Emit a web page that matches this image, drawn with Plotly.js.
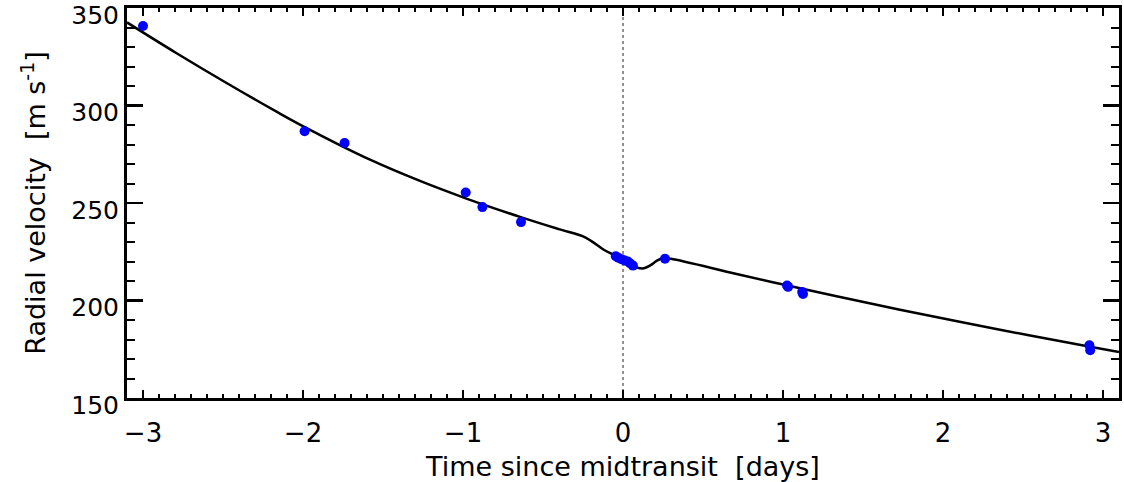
<!DOCTYPE html>
<html>
<head>
<meta charset="utf-8">
<script src="https://cdn.plot.ly/plotly-3.0.1.min.js"></script>
<style>
html,body{margin:0;padding:0;background:#fff;}
#chart{width:1124px;height:482px;}
</style>
</head>
<body>
<div id="chart"></div>
<script>
const obsTime = [-3.0, -1.99, -1.74, -0.983, -0.879, -0.6375,
  -0.045, -0.03, -0.01, 0.01, 0.03, 0.045, 0.062, 0.2625,
  1.025, 1.032, 1.12, 1.125, 2.915, 2.92];
const obsRV = [340.8, 286.8, 280.8, 255.4, 247.9, 240.2,
  222.7, 221.9, 221.2, 220.5, 220.0, 219.0, 217.9, 221.4,
  207.7, 207.0, 204.4, 203.3, 177.0, 174.5];

// Model curve
const modelTime = [-3.1, -2.79, -2.475, -2.16, -1.986, -1.581,
  -1.269, -0.983, -0.644, -0.4, -0.25, -0.2, -0.12, -0.05, 0.0, 0.05, 0.09,
  0.13, 0.17, 0.21, 0.25, 0.3, 0.71, 1.023, 1.335, 1.731, 2.356,
  2.92, 3.1];
const modelRV = [342.6, 326.8, 311.4, 296.6, 288.8, 272.2,
  261.3, 252.4, 242.9, 236.6, 232.9, 230.6, 226.0, 223.1, 220.6, 218.3, 216.8,
  216.5, 218.0, 220.3, 221.8, 221.4, 213.6, 207.8, 202.2, 195.3, 185.0,
  176.3, 173.6];

const xTickVals = [-3, -2, -1, 0, 1, 2, 3];
const yTickVals = [150, 200, 250, 300, 350];

const font = {family: 'DejaVu Sans, sans-serif', color: '#000'};

const traces = [
  {x: modelTime, y: modelRV, type: 'scatter', mode: 'lines',
   line: {color: '#000', width: 2.5, shape: 'spline', smoothing: 1},
   hoverinfo: 'skip', showlegend: false},
  {x: obsTime, y: obsRV, type: 'scatter', mode: 'markers',
   marker: {color: '#0000ff', size: 10, line: {width: 0}},
   showlegend: false}
];

const layout = {
  width: 1124, height: 482,
  margin: {l: 127, r: 5, t: 8, b: 84},
  paper_bgcolor: '#fff', plot_bgcolor: '#fff',
  font: Object.assign({size: 26}, font),
  showlegend: false,
  xaxis: {
    range: [-3.1, 3.1], tickvals: xTickVals, ticktext: xTickVals.map(v => v < 0 ? '\u2212' + Math.abs(v) : String(v)),
    ticks: 'inside', ticklen: 8, tickwidth: 2.5, tickcolor: '#000',
    minor: {dtick: 0.1, tick0: 0, ticks: 'inside', ticklen: 4, tickwidth: 2, tickcolor: '#000', showgrid: false},
    showline: true, linewidth: 3, linecolor: '#000', mirror: 'allticks',
    showgrid: false, zeroline: false,
    tickfont: Object.assign({size: 26}, font),
    ticklabelstandoff: 10,
    ticklabeloverflow: 'allow',
    title: {text: 'Time since midtransit  [days]', font: Object.assign({size: 27}, font), standoff: 14}
  },
  yaxis: {
    range: [150, 350], tickvals: yTickVals,
    ticks: 'inside', ticklen: 16, tickwidth: 2.5, tickcolor: '#000',
    minor: {dtick: 10, tick0: 0, ticks: 'inside', ticklen: 8, tickwidth: 2, tickcolor: '#000', showgrid: false},
    showline: true, linewidth: 3, linecolor: '#000', mirror: 'allticks',
    showgrid: false, zeroline: false,
    tickfont: Object.assign({size: 25}, font),
    ticklabelstandoff: 0,
    ticklabelshift: 7,
    ticklabeloverflow: 'allow',
    title: {text: 'Radial velocity  [m s<sup>-1</sup>]', font: Object.assign({size: 27}, font), standoff: 18}
  },
  shapes: [
    {type: 'line', xref: 'x', yref: 'paper', x0: 0, x1: 0, y0: 0, y1: 1,
     line: {color: '#222', width: 1, dash: 'dot'}, layer: 'below'}
  ]
};

Plotly.newPlot('chart', traces, layout, {displayModeBar: false, staticPlot: true});
</script>
</body>
</html>
